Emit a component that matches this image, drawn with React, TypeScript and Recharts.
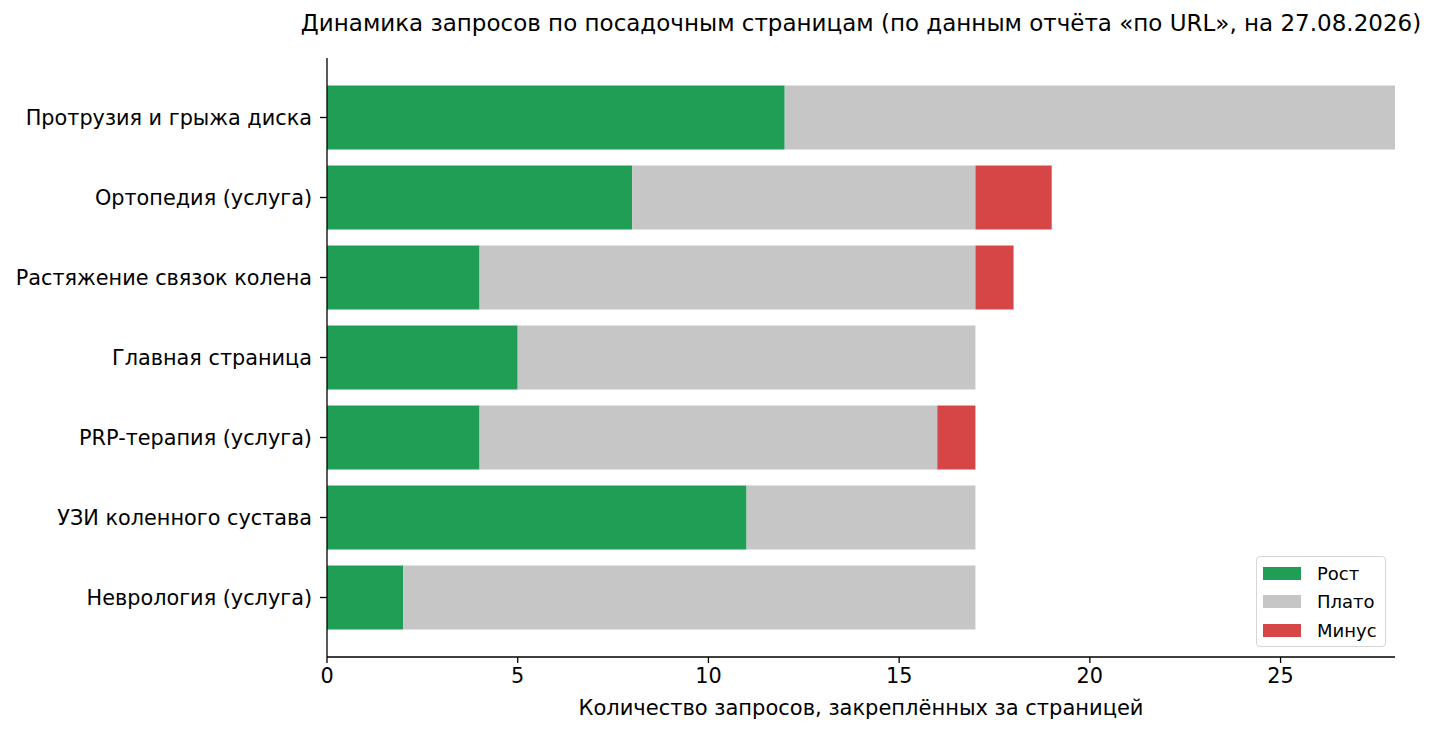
import { BarChart, Bar, XAxis, YAxis } from "recharts";

const pages = [
  "Протрузия и грыжа диска",
  "Ортопедия (услуга)",
  "Растяжение связок колена",
  "Главная страница",
  "PRP-терапия (услуга)",
  "УЗИ коленного сустава",
  "Неврология (услуга)",
];
const growth = [12, 8, 4, 5, 4, 11, 2];
const plateau = [16, 9, 13, 12, 12, 6, 15];
const minus = [0, 2, 1, 0, 1, 0, 0];
const xTicks = [0, 5, 10, 15, 20, 25];

const series = [
  { key: "growth", name: "Рост", color: "#209e55" },
  { key: "plateau", name: "Плато", color: "#c6c6c6" },
  { key: "minus", name: "Минус", color: "#d64646" },
];

const data = pages.map((page, i) => ({
  page,
  growth: growth[i],
  plateau: plateau[i],
  minus: minus[i],
}));

const font = "'DejaVu Sans', sans-serif";
const tick = { fill: "#000", fontSize: 20.8, fontFamily: font };

export default function App() {
  return (
    <div
      style={{
        position: "absolute",
        left: 0,
        top: 0,
        width: 1434,
        height: 735,
        background: "#fff",
        fontFamily: font,
      }}
    >
      <div
        style={{
          position: "absolute",
          left: 861,
          top: 10,
          transform: "translateX(-50%)",
          fontSize: 23,
          whiteSpace: "nowrap",
        }}
      >
        Динамика запросов по посадочным страницам (по данным отчёта «по URL», на 27.08.2026)
      </div>

      <BarChart
        width={1434}
        height={735}
        layout="vertical"
        data={data}
        margin={{ top: 58, right: 39, bottom: 0, left: 0 }}
        barSize={64}
      >
        <XAxis
          type="number"
          domain={[0, 28]}
          ticks={xTicks}
          allowDataOverflow
          height={78}
          tickSize={6}
          tickMargin={5}
          tick={tick}
          axisLine={{ stroke: "#000", strokeWidth: 1.3 }}
          tickLine={{ stroke: "#000", strokeWidth: 1.3 }}
        />
        <YAxis
          type="category"
          dataKey="page"
          width={327}
          tickSize={7}
          tickMargin={8}
          padding={{ top: 19.5, bottom: 19.5 }}
          tick={tick}
          interval={0}
          axisLine={{ stroke: "#000", strokeWidth: 1.3 }}
          tickLine={{ stroke: "#000", strokeWidth: 1.3 }}
        />
        {series.map((s) => (
          <Bar
            key={s.key}
            dataKey={s.key}
            name={s.name}
            stackId="total"
            fill={s.color}
            isAnimationActive={false}
          />
        ))}
      </BarChart>

      <div
        style={{
          position: "absolute",
          left: 861,
          top: 696,
          transform: "translateX(-50%)",
          fontSize: 21,
          whiteSpace: "nowrap",
        }}
      >
        Количество запросов, закреплённых за страницей
      </div>

      <div
        style={{
          position: "absolute",
          left: 1256,
          top: 556,
          width: 130,
          height: 91,
          border: "1.3px solid #d6d6d6",
          borderRadius: 4,
          boxSizing: "border-box",
          padding: "2px 0 0 6px",
          fontSize: 18,
        }}
      >
        {series.map((s) => (
          <div
            key={s.key}
            style={{ display: "flex", alignItems: "center", height: 28.5 }}
          >
            <span
              style={{
                display: "inline-block",
                width: 38,
                height: 13,
                background: s.color,
                marginRight: 16,
              }}
            />
            <span>{s.name}</span>
          </div>
        ))}
      </div>
    </div>
  );
}
